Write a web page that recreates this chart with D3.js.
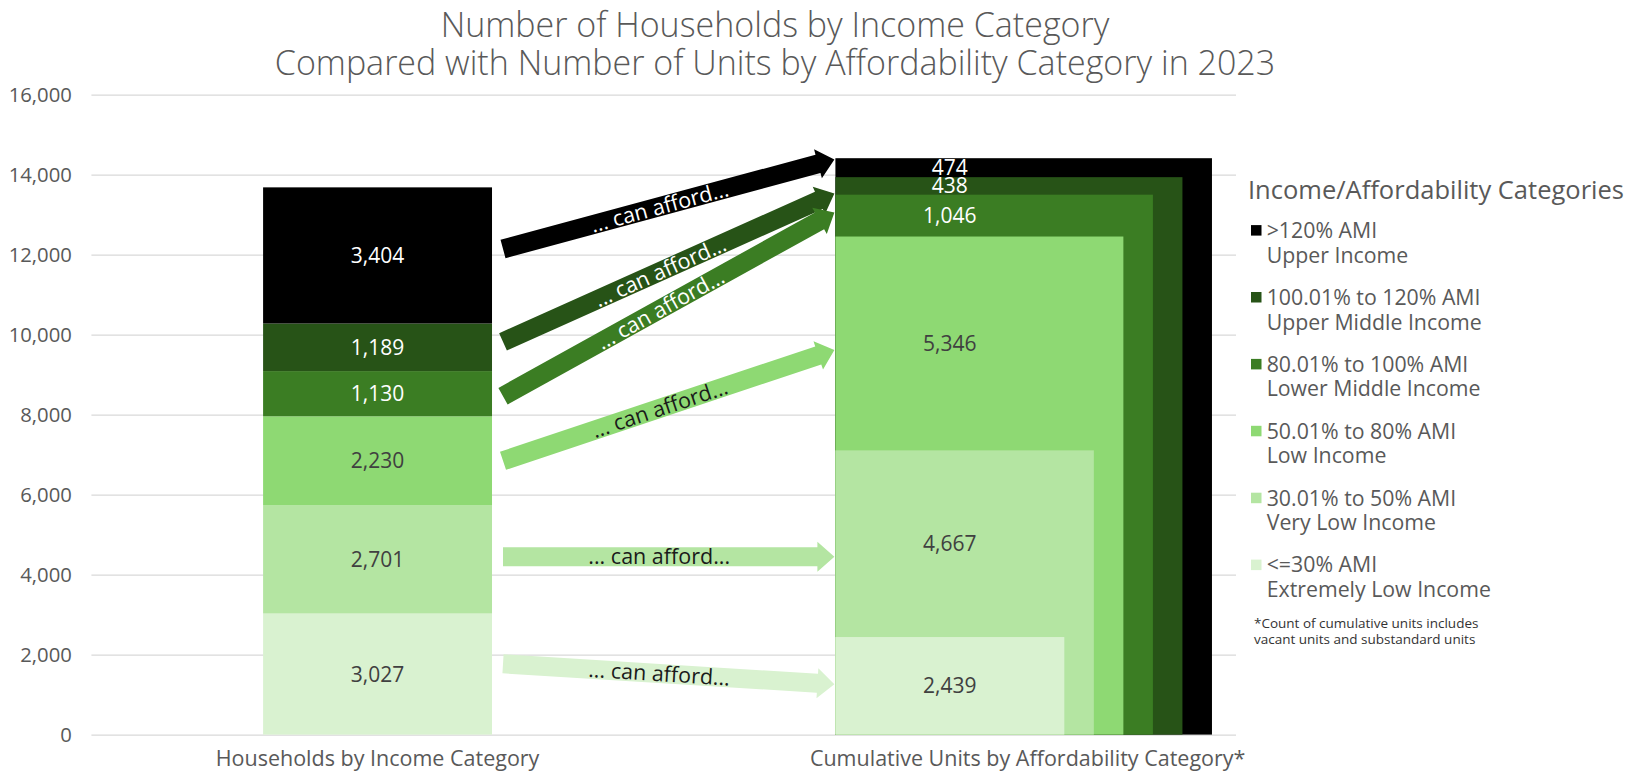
<!DOCTYPE html>
<html>
<head>
<meta charset="utf-8">
<script src="https://cdn.jsdelivr.net/npm/d3@7"></script>
<style>
  body { margin: 0; background: #ffffff; }
  svg { display: block; }
  text { font-family: "Open Sans", "Noto Sans", sans-serif; }
</style>
</head>
<body>
<svg id="chart" width="1629" height="771"></svg>
<script>
// ---- Data -------------------------------------------------------------
const titleLines = [
  "Number of Households by Income Category",
  "Compared with Number of Units by Affordability Category in 2023"
];
const groups = ["Households by Income Category", "Cumulative Units by Affordability Category*"];
// categories listed from highest income to lowest
const categories = [">120% AMI", "100.01% to 120% AMI", "80.01% to 100% AMI",
                    "50.01% to 80% AMI", "30.01% to 50% AMI", "<=30% AMI"];
const categoryNames = ["Upper Income", "Upper Middle Income", "Lower Middle Income",
                       "Low Income", "Very Low Income", "Extremely Low Income"];
const palette = ["#000000", "#275317", "#3b7d23", "#8ed973", "#b4e5a2", "#d9f2d0"];
const households = [3404, 1189, 1130, 2230, 2701, 3027];
const units = [474, 438, 1046, 5346, 4667, 2439];
const yTickValues = [0, 2000, 4000, 6000, 8000, 10000, 12000, 14000, 16000];
// "can afford" arrows: start level beside the household bar, end level at the unit bar
const arrowLabel = "... can afford...";
const arrowFrom = [12140, 9820, 8460, 6845, 4448, 1770];
const arrowTo = [14380, 13530, 13050, 9615, 4448, 1258];
const legendTitle = "Income/Affordability Categories";
const footnote = ["*Count of cumulative units includes", "vacant units and substandard units"];

// ---- Setup ------------------------------------------------------------
const svg = d3.select("#chart");
const gridLeft = 91.4, gridRight = 1236;
const y = d3.scaleLinear().domain([0, 16000]).range([734.6, 94.6]);
const x = d3.scaleBand().domain(groups).range([gridLeft, gridRight])
  .paddingInner(0.6).paddingOuter(0.3);
const bw = x.bandwidth();
const fmt = d3.format(",");
const isDark = i => i <= 2;

// Title
svg.append("g").selectAll("text").data(titleLines).join("text")
  .attr("x", 775).attr("y", (d, i) => 36.5 + i * 38.5)
  .attr("text-anchor", "middle")
  .attr("fill", "#595959").attr("font-size", 34).attr("font-weight", 300)
  .text(d => d);

// Y axis with gridlines
const yAxis = svg.append("g").attr("transform", `translate(${gridLeft},0)`)
  .call(d3.axisLeft(y).tickValues(yTickValues).tickFormat(fmt)
    .tickSize(-(gridRight - gridLeft)).tickPadding(19.5));
yAxis.select(".domain").remove();
yAxis.selectAll(".tick line").attr("stroke", "#d9d9d9").attr("stroke-width", 1.4);
yAxis.selectAll(".tick text").attr("fill", "#595959").attr("font-size", 20.3)
  .attr("font-family", "\"Open Sans\", sans-serif");

// Household bar: stacked from lowest income at the bottom
const bottomUp = d3.range(categories.length).reverse();
function cumulate(values) {
  let acc = 0;
  return bottomUp.map((i, k) => {
    const s = { i, k, y0: acc, y1: acc + values[i], v: values[i] };
    acc += values[i];
    return s;
  });
}
const hhSegs = cumulate(households);
const unitSegs = cumulate(units);

svg.append("g").selectAll("rect").data(hhSegs).join("rect")
  .attr("x", x(groups[0])).attr("width", bw)
  .attr("y", d => y(d.y1)).attr("height", d => y(d.y0) - y(d.y1))
  .attr("fill", d => palette[d.i]);

// Cumulative units: nested blocks, each reaching from zero to its running total
const widen = 0.129;
svg.append("g").selectAll("rect").data(unitSegs.slice().reverse()).join("rect")
  .attr("x", x(groups[1])).attr("width", d => bw * (1 + d.k * widen))
  .attr("y", d => y(d.y1)).attr("height", d => y(0) - y(d.y1))
  .attr("fill", d => palette[d.i]);

// Value labels
function labels(segs, group) {
  svg.append("g").selectAll("text").data(segs).join("text")
    .attr("x", x(group) + bw / 2)
    .attr("y", d => y((d.y0 + d.y1) / 2)).attr("dy", "0.36em")
    .attr("text-anchor", "middle").attr("font-size", 21)
    .attr("fill", d => isDark(d.i) ? "#ffffff" : "#404040")
    .text(d => fmt(d.v));
}
labels(hhSegs, groups[0]);
labels(unitSegs, groups[1]);

// X category labels
svg.append("g").selectAll("text").data(groups).join("text")
  .attr("x", (d, i) => i === 0 ? x(d) + bw / 2 : x(d) + bw * (1 + 5 * widen) / 2 + 4)
  .attr("y", 758.5).attr("dy", "0.36em")
  .attr("text-anchor", "middle").attr("fill", "#595959").attr("font-size", 21.5)
  .text(d => d);

// Arrows
const tailX = x(groups[0]) + bw + 11;
const tipX = x(groups[1]) - 1;
const shaftHalf = 9.5, headHalf = 15, headLen = 17;
const arrows = svg.append("g").selectAll("g").data(categories).join("g")
  .attr("transform", (d, i) => {
    const y0 = y(arrowFrom[i]), y1 = y(arrowTo[i]);
    const ang = Math.atan2(y1 - y0, tipX - tailX) * 180 / Math.PI;
    return `translate(${tailX},${y0}) rotate(${ang})`;
  });
arrows.append("path")
  .attr("fill", (d, i) => palette[i])
  .attr("d", (d, i) => {
    const L = Math.hypot(tipX - tailX, y(arrowTo[i]) - y(arrowFrom[i]));
    const b = L - headLen;
    return `M0,${-shaftHalf}L${b},${-shaftHalf}L${b},${-headHalf}L${L},0L${b},${headHalf}L${b},${shaftHalf}L0,${shaftHalf}Z`;
  });
arrows.append("text")
  .attr("x", (d, i) => (Math.hypot(tipX - tailX, y(arrowTo[i]) - y(arrowFrom[i])) - headLen) / 2 - 1)
  .attr("y", 0).attr("dy", "0.36em")
  .attr("text-anchor", "middle").attr("font-size", 21.5)
  .attr("fill", (d, i) => isDark(i) ? "#ffffff" : "#1a1a1a")
  .text(arrowLabel);

// Legend
const lg = svg.append("g");
lg.append("text").attr("x", 1248).attr("y", 190).attr("dy", "0.36em")
  .attr("fill", "#595959").attr("font-size", 25.5).text(legendTitle);
const items = lg.selectAll("g.item").data(categories).join("g").attr("class", "item")
  .attr("transform", (d, i) => `translate(1251,${230.3 + i * 66.9})`);
items.append("rect").attr("x", 0).attr("y", -5.2).attr("width", 10.5).attr("height", 10.5)
  .attr("fill", (d, i) => palette[i]);
items.append("text").attr("x", 15.7).attr("y", 0).attr("dy", "0.36em")
  .attr("fill", "#595959").attr("font-size", 21.3).text(d => d);
items.append("text").attr("x", 15.7).attr("y", 24.7).attr("dy", "0.36em")
  .attr("fill", "#595959").attr("font-size", 21.3).text((d, i) => categoryNames[i]);

lg.selectAll("text.note").data(footnote).join("text").attr("class", "note")
  .attr("x", 1254).attr("y", (d, i) => 622.7 + i * 16.6).attr("dy", "0.36em")
  .attr("fill", "#333333").attr("font-size", 13.5).text(d => d);
</script>
</body>
</html>
